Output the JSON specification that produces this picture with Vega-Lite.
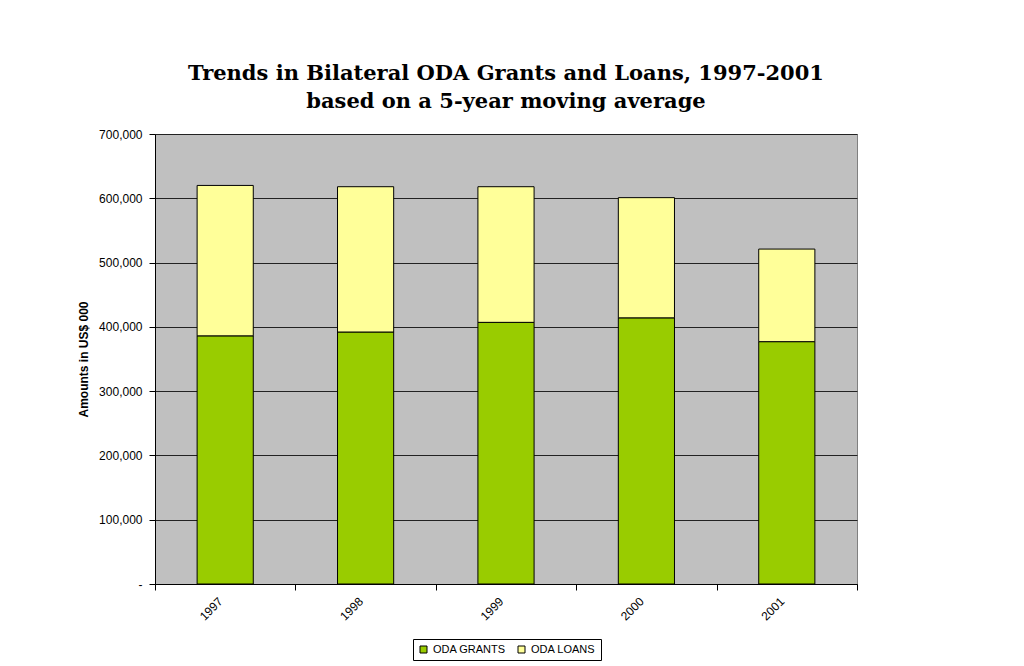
{
  "$schema": "https://vega.github.io/schema/vega-lite/v6.json",
  "autosize": "none",
  "width": 702,
  "height": 450,
  "padding": {"left": 155, "top": 134, "right": 167, "bottom": 82},
  "background": "white",
  "title": {
    "text": ["Trends in Bilateral ODA Grants and Loans, 1997-2001", "based on a 5-year moving average"],
    "font": "DejaVu Serif",
    "fontSize": 21,
    "fontWeight": "bold",
    "color": "black",
    "anchor": "middle",
    "baseline": "bottom",
    "lineHeight": 28,
    "offset": -5
  },
  "data": {
    "values": [
      {"year": "1997", "type": "ODA GRANTS", "stackOrder": 1, "amount": 386000},
      {"year": "1997", "type": "ODA LOANS", "stackOrder": 2, "amount": 234000},
      {"year": "1998", "type": "ODA GRANTS", "stackOrder": 1, "amount": 392000},
      {"year": "1998", "type": "ODA LOANS", "stackOrder": 2, "amount": 226000},
      {"year": "1999", "type": "ODA GRANTS", "stackOrder": 1, "amount": 407000},
      {"year": "1999", "type": "ODA LOANS", "stackOrder": 2, "amount": 211000},
      {"year": "2000", "type": "ODA GRANTS", "stackOrder": 1, "amount": 414000},
      {"year": "2000", "type": "ODA LOANS", "stackOrder": 2, "amount": 187000},
      {"year": "2001", "type": "ODA GRANTS", "stackOrder": 1, "amount": 377000},
      {"year": "2001", "type": "ODA LOANS", "stackOrder": 2, "amount": 144000}
    ]
  },
  "mark": {"type": "bar", "stroke": "black", "strokeWidth": 1, "width": {"band": 0.4}},
  "encoding": {
    "x": {
      "field": "year",
      "type": "ordinal",
      "scale": {"paddingInner": 0, "paddingOuter": 0},
      "axis": {
        "title": null,
        "labelAngle": -45,
        "labelAlign": "right",
        "labelBaseline": "middle",
        "labelFont": "Liberation Sans",
        "labelFontSize": 12,
        "labelColor": "black",
        "labelPadding": 9,
        "labelOffset": -5,
        "tickBand": "extent",
        "tickSize": 6,
        "tickColor": "black",
        "domainColor": "black",
        "grid": false
      }
    },
    "y": {
      "field": "amount",
      "type": "quantitative",
      "stack": "zero",
      "scale": {"domain": [0, 700000], "nice": false},
      "axis": {
        "title": "Amounts in US$ 000",
        "titleFont": "Liberation Sans",
        "titleFontSize": 12,
        "titleFontWeight": "bold",
        "titleColor": "black",
        "titleX": -72,
        "titleY": 225,
        "titleAlign": "center",
        "titleBaseline": "middle",
        "titleAngle": -90,
        "values": [0, 100000, 200000, 300000, 400000, 500000, 600000, 700000],
        "labelExpr": "datum.value == 0 ? '-' : format(datum.value, ',')",
        "labelFont": "Liberation Sans",
        "labelFontSize": 12,
        "labelColor": "black",
        "labelPadding": 7,
        "tickSize": 6,
        "tickColor": "black",
        "domainColor": "black",
        "grid": true,
        "gridColor": "#222222",
        "gridWidth": 1
      }
    },
    "color": {
      "field": "type",
      "type": "nominal",
      "scale": {"domain": ["ODA GRANTS", "ODA LOANS"], "range": ["#99CC00", "#FFFF99"]},
      "legend": {
        "title": null,
        "orient": "none",
        "legendX": 258,
        "legendY": 505,
        "direction": "horizontal",
        "strokeColor": "black",
        "padding": 5,
        "symbolType": "square",
        "symbolSize": 49,
        "symbolStrokeColor": "black",
        "symbolStrokeWidth": 1,
        "symbolOpacity": 1,
        "labelFont": "Liberation Sans",
        "labelFontSize": 11,
        "labelColor": "black",
        "labelOffset": 4,
        "columnPadding": 10
      }
    },
    "order": {"field": "stackOrder", "type": "quantitative"}
  },
  "config": {
    "view": {"fill": "#C0C0C0", "stroke": "#808080"}
  }
}
